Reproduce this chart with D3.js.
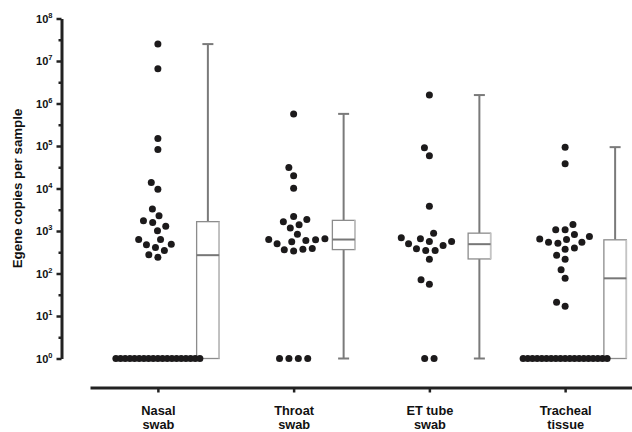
<!DOCTYPE html>
<html>
<head>
<meta charset="utf-8">
<script src="https://cdn.jsdelivr.net/npm/d3@7"></script>
<style>
  html, body { margin: 0; padding: 0; background: #fff; }
  svg { display: block; }
  text { font-family: "Liberation Sans", Arial, Helvetica, sans-serif; font-weight: bold; fill: #111; }
</style>
</head>
<body>
<script>
// ---------- data ----------
const categories = ["Nasal swab", "Throat swab", "ET tube swab", "Tracheal tissue"];
const categoryLines = [["Nasal", "swab"], ["Throat", "swab"], ["ET tube", "swab"], ["Tracheal", "tissue"]];

const nasalValues = [2.5e7, 6.6e6, 1.5e5, 8.3e4, 1.38e4, 9.6e3, 3.3e3, 2.3e3, 1.74e3, 1.58e3, 1.3e3, 1.02e3,
  630, 630, 490, 473, 410, 347, 275, 240,
  1, 1, 1, 1, 1, 1, 1, 1, 1, 1, 1, 1, 1, 1, 1, 1, 1, 1, 1];
const throatValues = [5.7e5, 3.1e4, 2.0e4, 1.02e4, 2.2e3, 1.87e3, 1.65e3, 1.4e3, 1.17e3, 840, 660, 630,
  620, 600, 560, 500, 385, 370, 360, 340,
  1, 1, 1, 1];
const etTubeValues = [1.58e6, 9.1e4, 5.9e4, 3.8e3, 890, 690, 660, 565, 565, 500, 455, 380, 347, 347, 217, 71, 56,
  1, 1];
const trachealValues = [9.4e4, 3.8e4, 1.42e3, 1.07e3, 1.07e3, 830, 740, 650, 630, 545, 545, 515, 400, 372, 270,
  217, 122, 77, 21, 17,
  1, 1, 1, 1, 1, 1, 1, 1, 1, 1, 1, 1, 1, 1, 1, 1, 1, 1, 1];

// box plot summaries: [min, q1, median, q3, max]
const boxNasal    = [1, 1, 270, 1660, 2.5e7];
const boxThroat   = [1, 365, 630, 1780, 5.7e5];
const boxEtTube   = [1, 220, 490, 890, 1.58e6];
const boxTracheal = [1, 1, 77, 620, 9.4e4];

const yTickValues = [1, 1e1, 1e2, 1e3, 1e4, 1e5, 1e6, 1e7, 1e8];
const yTickExponents = ["0", "1", "2", "3", "4", "5", "6", "7", "8"];
const yMinorTickValues = [3.1623, 31.623, 316.23, 3162.3, 31623, 316228, 3162278, 31622777];
const yAxisTitle = "Egene copies per sample";

const groups = [
  { name: categories[0], values: nasalValues, box: boxNasal },
  { name: categories[1], values: throatValues, box: boxThroat },
  { name: categories[2], values: etTubeValues, box: boxEtTube },
  { name: categories[3], values: trachealValues, box: boxTracheal }
];

// ---------- layout ----------
const W = 632, H = 432;
const svg = d3.select("body").append("svg").attr("width", W).attr("height", H);

const y = d3.scaleLog().domain([1, 1e8]).range([358.5, 18.5]);
const x = d3.scalePoint().domain(categories).range([90, 633]).padding(0.5);

const dotR = 3.5;
const swarmD = 9.4;      // min distance between dot centres
const floorRowMax = 84;  // max width of the row of values at the axis floor
const boxOffset = 50, boxW = 22.5, capW = 11;

// beeswarm layout
function swarm(values) {
  const pts = values.map(v => ({ v, py: y(v), dx: 0 }));
  const floor = pts.filter(p => p.v <= 1);
  const rest = pts.filter(p => p.v > 1).sort((a, b) => a.v - b.v);
  const n = floor.length;
  if (n) {
    const s = n > 1 ? Math.min(swarmD, floorRowMax / (n - 1)) : 0;
    floor.forEach((p, i) => p.dx = (i - (n - 1) / 2) * s);
  }
  const placed = [];
  rest.forEach(p => {
    const blocks = [];
    placed.forEach(q => {
      const dy = Math.abs(q.py - p.py);
      if (dy < swarmD) {
        const h = Math.sqrt(swarmD * swarmD - dy * dy);
        blocks.push([q.dx - h, q.dx + h]);
      }
    });
    const cands = [0];
    blocks.forEach(b => { cands.push(b[0], b[1]); });
    cands.sort((a, b) => Math.abs(a) - Math.abs(b) || a - b);
    let best = 0;
    for (const c of cands) {
      if (blocks.every(b => c <= b[0] + 1e-6 || c >= b[1] - 1e-6)) { best = c; break; }
    }
    p.dx = best;
    placed.push(p);
  });
  return pts;
}

// ---------- axes ----------
const yAxisG = svg.append("g").attr("transform", "translate(61.5,0)")
  .call(d3.axisLeft(y).tickValues(yTickValues).tickSize(5).tickSizeOuter(0).tickFormat(() => ""));
yAxisG.select(".domain").attr("stroke", "#222").attr("stroke-width", 3);
yAxisG.selectAll(".tick line").attr("stroke", "#222").attr("stroke-width", 2.5);
yAxisG.selectAll(".tick text").remove();
yAxisG.selectAll(".tick").append("text")
  .attr("x", -9).attr("dy", "0.33em").attr("text-anchor", "end")
  .style("font-size", "11px")
  .each(function (d, i) {
    const t = d3.select(this);
    t.append("tspan").text("10");
    t.append("tspan").attr("dy", "-5").style("font-size", "7.5px").text(yTickExponents[i]);
  });

const yMinorG = svg.append("g").attr("transform", "translate(61.5,0)")
  .call(d3.axisLeft(y).tickValues(yMinorTickValues).tickSize(3).tickSizeOuter(0).tickFormat(() => ""));
yMinorG.select(".domain").remove();
yMinorG.selectAll(".tick line").attr("stroke", "#222").attr("stroke-width", 2.5);

svg.append("text")
  .attr("transform", `translate(22,${(y.range()[0] + y.range()[1]) / 2}) rotate(-90)`)
  .attr("text-anchor", "middle")
  .style("font-size", "13.3px")
  .text(yAxisTitle);

const xAxisG = svg.append("g").attr("transform", "translate(0,387.5)")
  .call(d3.axisBottom(x).tickSize(5).tickSizeOuter(0).tickFormat(() => ""));
xAxisG.select(".domain").attr("stroke", "#222").attr("stroke-width", 3);
xAxisG.selectAll(".tick line").attr("stroke", "#222").attr("stroke-width", 2.5);
xAxisG.selectAll(".tick text").remove();
xAxisG.selectAll(".tick").append("text")
  .attr("text-anchor", "middle")
  .style("font-size", "12.8px")
  .each(function (d, i) {
    const t = d3.select(this);
    categoryLines[i].forEach((ln, j) => {
      t.append("tspan").attr("x", 0).attr("y", 27 + j * 14.5).text(ln);
    });
  });

// ---------- marks ----------
const plot = svg.append("g");

groups.forEach(g => {
  const cx = x(g.name);
  const bx = cx + boxOffset;
  const [mn, q1, med, q3, mx] = g.box;
  const gg = plot.append("g");

  // whiskers
  gg.append("line").attr("x1", bx).attr("x2", bx).attr("y1", y(q3)).attr("y2", y(mx))
    .attr("stroke", "#7a7a7a").attr("stroke-width", 2);
  gg.append("line").attr("x1", bx - capW / 2).attr("x2", bx + capW / 2).attr("y1", y(mx)).attr("y2", y(mx))
    .attr("stroke", "#7a7a7a").attr("stroke-width", 2);
  if (q1 > mn) {
    gg.append("line").attr("x1", bx).attr("x2", bx).attr("y1", y(q1)).attr("y2", y(mn))
      .attr("stroke", "#7a7a7a").attr("stroke-width", 2);
    gg.append("line").attr("x1", bx - capW / 2).attr("x2", bx + capW / 2).attr("y1", y(mn)).attr("y2", y(mn))
      .attr("stroke", "#7a7a7a").attr("stroke-width", 2);
  }
  // box
  gg.append("rect").attr("x", bx - boxW / 2).attr("width", boxW)
    .attr("y", y(q3)).attr("height", y(q1) - y(q3))
    .attr("fill", "#fff").attr("stroke", "#8c8c8c").attr("stroke-width", 1.3);
  gg.append("line").attr("x1", bx + boxW / 2).attr("x2", bx + boxW / 2).attr("y1", y(q3)).attr("y2", y(q1))
    .attr("stroke", "#c4c4c4").attr("stroke-width", 1.5);
  gg.append("line").attr("x1", bx - boxW / 2).attr("x2", bx + boxW / 2).attr("y1", y(med)).attr("y2", y(med))
    .attr("stroke", "#777").attr("stroke-width", 2);

  // dots
  const pts = swarm(g.values);
  gg.selectAll("circle").data(pts).join("circle")
    .attr("cx", p => cx + p.dx).attr("cy", p => p.py).attr("r", dotR)
    .attr("fill", "#1c1a1b");
});
</script>
</body>
</html>
